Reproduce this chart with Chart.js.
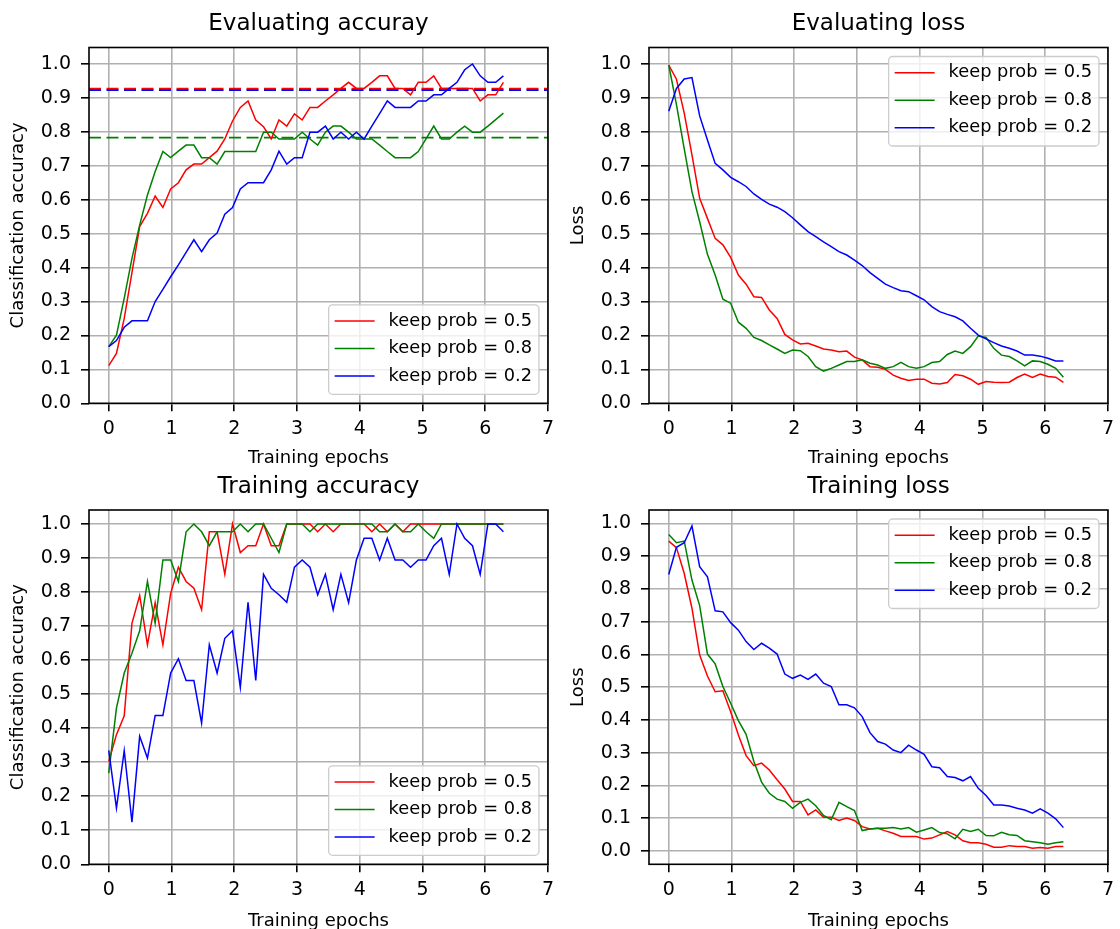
<!DOCTYPE html>
<html>
<head>
<meta charset="utf-8">
<title>Dropout keep probability comparison</title>
<script src="https://cdn.jsdelivr.net/npm/chart.js@4.4.1/dist/chart.umd.min.js"></script>
<style>
  html, body { margin: 0; padding: 0; background: #ffffff; width: 1120px; height: 929px; overflow: hidden; }
  canvas { position: absolute; }
</style>
</head>
<body>
<canvas id="evalAccCanvas" width="560" height="480" style="left:0px;top:0px;width:560px;height:480px"></canvas>
<canvas id="evalLossCanvas" width="560" height="480" style="left:560px;top:0px;width:560px;height:480px"></canvas>
<canvas id="trainAccCanvas" width="560" height="490" style="left:0px;top:454px;width:560px;height:490px"></canvas>
<canvas id="trainLossCanvas" width="560" height="490" style="left:560px;top:454px;width:560px;height:490px"></canvas>
<script>
// ---- data ----
const epochs = [0, 0.123, 0.247, 0.370, 0.493, 0.617, 0.740, 0.863, 0.987, 1.110,
  1.233, 1.357, 1.480, 1.603, 1.727, 1.850, 1.973, 2.097, 2.220, 2.343,
  2.467, 2.590, 2.713, 2.837, 2.960, 3.083, 3.207, 3.330, 3.453, 3.577,
  3.700, 3.823, 3.947, 4.070, 4.193, 4.317, 4.440, 4.563, 4.687, 4.810,
  4.933, 5.057, 5.180, 5.303, 5.427, 5.550, 5.673, 5.797, 5.920, 6.043,
  6.167, 6.290];

const seriesLabels = ['keep prob = 0.5', 'keep prob = 0.8', 'keep prob = 0.2'];
const seriesColors = ['#ff0000', '#008000', '#0000ff'];

const xTicks = [0, 1, 2, 3, 4, 5, 6, 7];
const yTicks = [0, 0.1, 0.2, 0.3, 0.4, 0.5, 0.6, 0.7, 0.8, 0.9, 1.0];

// evaluation accuracy
const evalAcc05 = [0.111, 0.147, 0.250, 0.385, 0.521, 0.560, 0.611, 0.577, 0.632, 0.650,
  0.688, 0.705, 0.705, 0.724, 0.743, 0.779, 0.832, 0.872, 0.891, 0.835,
  0.815, 0.779, 0.835, 0.817, 0.853, 0.835, 0.872, 0.872, 0.891, 0.909,
  0.928, 0.946, 0.928, 0.928, 0.946, 0.965, 0.965, 0.928, 0.928, 0.909,
  0.946, 0.946, 0.965, 0.928, 0.928, 0.928, 0.928, 0.928, 0.891, 0.909,
  0.909, 0.946];
const evalAcc08 = [0.167, 0.201, 0.310, 0.427, 0.525, 0.614, 0.683, 0.742, 0.724, 0.743,
  0.761, 0.761, 0.724, 0.724, 0.705, 0.742, 0.742, 0.742, 0.742, 0.742,
  0.799, 0.799, 0.779, 0.779, 0.779, 0.799, 0.779, 0.761, 0.799, 0.817,
  0.817, 0.799, 0.779, 0.779, 0.779, 0.761, 0.742, 0.724, 0.724, 0.724,
  0.742, 0.779, 0.817, 0.779, 0.779, 0.799, 0.817, 0.799, 0.799, 0.817,
  0.836, 0.855];
const evalAcc02 = [0.167, 0.185, 0.224, 0.243, 0.243, 0.243, 0.300, 0.336, 0.373, 0.408,
  0.445, 0.482, 0.447, 0.482, 0.502, 0.557, 0.577, 0.632, 0.650, 0.650,
  0.650, 0.688, 0.743, 0.705, 0.724, 0.724, 0.799, 0.799, 0.817, 0.779,
  0.799, 0.779, 0.799, 0.779, 0.817, 0.854, 0.891, 0.872, 0.872, 0.872,
  0.891, 0.891, 0.909, 0.909, 0.928, 0.946, 0.983, 1.000, 0.965, 0.946,
  0.946, 0.965];
// reference levels drawn as dashed horizontal lines (same order as the series)
const evalAccLevels = [0.927, 0.783, 0.923];

// evaluation loss
const evalLoss05 = [0.997, 0.955, 0.855, 0.732, 0.604, 0.545, 0.486, 0.467, 0.430, 0.378,
  0.351, 0.314, 0.312, 0.275, 0.250, 0.203, 0.187, 0.175, 0.177, 0.169,
  0.160, 0.157, 0.152, 0.154, 0.136, 0.128, 0.108, 0.106, 0.100, 0.083,
  0.074, 0.067, 0.071, 0.071, 0.059, 0.057, 0.061, 0.085, 0.081, 0.071,
  0.056, 0.064, 0.062, 0.061, 0.062, 0.076, 0.086, 0.076, 0.086, 0.079,
  0.077, 0.062];
const evalLoss08 = [0.997, 0.880, 0.750, 0.624, 0.535, 0.439, 0.378, 0.307, 0.295, 0.239,
  0.221, 0.194, 0.185, 0.172, 0.160, 0.147, 0.157, 0.155, 0.138, 0.108,
  0.095, 0.103, 0.113, 0.123, 0.123, 0.128, 0.118, 0.113, 0.103, 0.108,
  0.121, 0.108, 0.103, 0.108, 0.120, 0.123, 0.144, 0.154, 0.147, 0.167,
  0.198, 0.194, 0.162, 0.142, 0.138, 0.125, 0.110, 0.125, 0.123, 0.115,
  0.103, 0.077];
const evalLoss02 = [0.861, 0.928, 0.956, 0.960, 0.847, 0.776, 0.707, 0.688, 0.666, 0.653,
  0.639, 0.617, 0.601, 0.587, 0.578, 0.565, 0.547, 0.526, 0.506, 0.491,
  0.476, 0.462, 0.447, 0.437, 0.422, 0.406, 0.385, 0.368, 0.351, 0.341,
  0.332, 0.329, 0.317, 0.305, 0.285, 0.270, 0.262, 0.255, 0.243, 0.221,
  0.201, 0.190, 0.179, 0.169, 0.162, 0.154, 0.142, 0.142, 0.139, 0.133,
  0.125, 0.125];

// training accuracy
const trainAcc05 = [0.302, 0.381, 0.436, 0.708, 0.790, 0.645, 0.769, 0.645, 0.796, 0.873,
  0.831, 0.811, 0.748, 0.977, 0.977, 0.852, 1.000, 0.916, 0.936, 0.936,
  1.000, 0.936, 0.936, 1.000, 1.000, 1.000, 1.000, 0.977, 1.000, 0.977,
  1.000, 1.000, 1.000, 1.000, 0.977, 1.000, 0.977, 1.000, 0.977, 1.000,
  1.000, 1.000, 1.000, 1.000, 1.000, 1.000, 1.000, 1.000, 1.000, 1.000,
  1.000, 1.000];
const trainAcc08 = [0.268, 0.459, 0.562, 0.620, 0.686, 0.831, 0.708, 0.894, 0.894, 0.831,
  0.977, 1.000, 0.977, 0.936, 0.977, 0.977, 0.977, 1.000, 0.977, 1.000,
  1.000, 0.958, 0.916, 1.000, 1.000, 1.000, 0.977, 1.000, 1.000, 1.000,
  1.000, 1.000, 1.000, 1.000, 1.000, 0.977, 0.977, 1.000, 0.977, 0.977,
  1.000, 0.977, 0.958, 1.000, 1.000, 1.000, 1.000, 1.000, 1.000, 1.000,
  1.000, 1.000];
const trainAcc02 = [0.335, 0.165, 0.334, 0.124, 0.376, 0.312, 0.437, 0.437, 0.562, 0.604,
  0.540, 0.540, 0.415, 0.645, 0.562, 0.664, 0.686, 0.520, 0.770, 0.540,
  0.852, 0.811, 0.792, 0.770, 0.873, 0.894, 0.873, 0.792, 0.852, 0.748,
  0.852, 0.769, 0.894, 0.958, 0.958, 0.894, 0.958, 0.894, 0.894, 0.873,
  0.894, 0.894, 0.936, 0.958, 0.852, 1.000, 0.958, 0.936, 0.852, 1.000,
  1.000, 0.977];

// training loss
const trainLoss05 = [0.946, 0.926, 0.847, 0.741, 0.598, 0.534, 0.486, 0.489, 0.425, 0.354,
  0.291, 0.260, 0.268, 0.247, 0.217, 0.189, 0.151, 0.151, 0.110, 0.125,
  0.103, 0.103, 0.093, 0.100, 0.093, 0.074, 0.067, 0.069, 0.061, 0.054,
  0.044, 0.044, 0.044, 0.036, 0.039, 0.049, 0.059, 0.049, 0.031, 0.025,
  0.025, 0.020, 0.011, 0.011, 0.016, 0.013, 0.013, 0.008, 0.010, 0.008,
  0.013, 0.013];
const trainLoss08 = [0.966, 0.941, 0.946, 0.827, 0.749, 0.601, 0.571, 0.502, 0.451, 0.398,
  0.356, 0.273, 0.210, 0.176, 0.158, 0.151, 0.130, 0.148, 0.158, 0.138,
  0.108, 0.095, 0.148, 0.135, 0.123, 0.062, 0.067, 0.069, 0.069, 0.071,
  0.067, 0.071, 0.057, 0.064, 0.071, 0.056, 0.052, 0.037, 0.066, 0.059,
  0.066, 0.047, 0.046, 0.057, 0.049, 0.047, 0.031, 0.028, 0.025, 0.020,
  0.025, 0.028];
const trainLoss02 = [0.844, 0.927, 0.941, 0.992, 0.868, 0.837, 0.733, 0.730, 0.697, 0.674,
  0.639, 0.615, 0.634, 0.619, 0.601, 0.540, 0.527, 0.537, 0.524, 0.540,
  0.512, 0.502, 0.446, 0.446, 0.437, 0.410, 0.361, 0.334, 0.326, 0.308,
  0.300, 0.323, 0.308, 0.295, 0.257, 0.254, 0.227, 0.224, 0.214, 0.227,
  0.191, 0.169, 0.140, 0.140, 0.137, 0.130, 0.125, 0.115, 0.128, 0.115,
  0.098, 0.071];

// ---- styling ----
const FONT = '"DejaVu Sans", "Liberation Sans", sans-serif';
Chart.defaults.font.family = FONT;
Chart.defaults.color = '#000000';

const X_MIN = -0.3145, X_MAX = 7;

// black box around the plotting area
const axesFrame = {
  id: 'axesFrame',
  afterDatasetsDraw(chart) {
    const { ctx, chartArea: a } = chart;
    ctx.save();
    ctx.strokeStyle = '#000000';
    ctx.lineWidth = 1.6;
    ctx.strokeRect(a.left, a.top, a.right - a.left, a.bottom - a.top);
    ctx.restore();
  }
};

function roundedRect(ctx, x, y, w, h, r) {
  ctx.beginPath();
  ctx.moveTo(x + r, y);
  ctx.lineTo(x + w - r, y);
  ctx.arcTo(x + w, y, x + w, y + r, r);
  ctx.lineTo(x + w, y + h - r);
  ctx.arcTo(x + w, y + h, x + w - r, y + h, r);
  ctx.lineTo(x + r, y + h);
  ctx.arcTo(x, y + h, x, y + h - r, r);
  ctx.lineTo(x, y + r);
  ctx.arcTo(x, y, x + r, y, r);
  ctx.closePath();
}

// legend drawn inside the plotting area, in a corner
const insideLegend = {
  id: 'insideLegend',
  afterDraw(chart, args, opts) {
    const { ctx, chartArea: a } = chart;
    const items = chart.data.datasets.filter(d => !d.isLevel);
    ctx.save();
    ctx.font = opts.fontSize + 'px ' + FONT;
    const textW = Math.max(...items.map(d => ctx.measureText(d.label).width));
    const padL = 6, handle = 40, gap = 14, padR = 7, padTop = 2.5, padBottom = 4.5, rowH = 27.5;
    const w = padL + handle + gap + textW + padR;
    const h = padTop + rowH * items.length + padBottom;
    const x0 = a.right - opts.inset - w;
    const y0 = opts.corner === 'upper' ? a.top + opts.inset : a.bottom - opts.inset - h;
    roundedRect(ctx, x0, y0, w, h, 4);
    ctx.fillStyle = 'rgba(255,255,255,0.8)';
    ctx.fill();
    ctx.strokeStyle = '#cccccc';
    ctx.lineWidth = 1.3;
    ctx.stroke();
    items.forEach((d, k) => {
      const cy = y0 + padTop + rowH * (k + 0.5);
      ctx.beginPath();
      ctx.moveTo(x0 + padL, cy);
      ctx.lineTo(x0 + padL + handle, cy);
      ctx.strokeStyle = d.borderColor;
      ctx.lineWidth = d.borderWidth;
      ctx.stroke();
      ctx.fillStyle = '#000000';
      ctx.textAlign = 'left';
      ctx.textBaseline = 'middle';
      ctx.fillText(d.label, x0 + padL + handle + gap, cy);
    });
    ctx.restore();
  }
};

function toPoints(values) {
  return epochs.map((e, i) => ({ x: e, y: values[i] }));
}

function seriesSets(valueLists) {
  return valueLists.map((vals, k) => ({
    label: seriesLabels[k],
    data: toPoints(vals),
    borderColor: seriesColors[k],
    backgroundColor: seriesColors[k],
    borderWidth: 1.5,
    pointRadius: 0,
    tension: 0,
    fill: false,
    order: 3 - k
  }));
}

function levelSets(levels) {
  return levels.map((v, k) => ({
    label: 'level ' + seriesLabels[k],
    isLevel: true,
    data: [{ x: X_MIN, y: v }, { x: X_MAX, y: v }],
    borderColor: seriesColors[k],
    borderWidth: 1.9,
    borderDash: [12, 5.5],
    pointRadius: 0,
    fill: false,
    order: 6 - k
  }));
}

function makePanel(canvasId, cfg) {
  const gridStyle = {
    color: '#b0b0b0',
    lineWidth: 1.6,
    drawTicks: true,
    tickLength: 8,
    tickColor: '#000000',
    tickWidth: 1.6
  };
  return new Chart(document.getElementById(canvasId), {
    type: 'line',
    data: { datasets: cfg.datasets },
    plugins: [axesFrame, insideLegend],
    options: {
      responsive: false,
      animation: false,
      devicePixelRatio: 1,
      events: [],
      layout: { padding: { left: 0, right: 4, top: 0, bottom: 0 } },
      scales: {
        x: {
          type: 'linear',
          min: X_MIN,
          max: X_MAX,
          afterBuildTicks: s => { s.ticks = xTicks.map(v => ({ value: v })); },
          afterFit: s => { s.height = cfg.xAxisHeight; },
          ticks: {
            autoSkip: false, maxRotation: 0, padding: 6,
            font: { size: 19 }, color: '#000000',
            callback: v => String(v)
          },
          grid: gridStyle,
          border: { display: false },
          title: {
            display: true, text: 'Training epochs',
            font: { size: 18 }, color: '#000000',
            padding: { top: 0, bottom: cfg.xTitlePad }
          }
        },
        y: {
          type: 'linear',
          min: cfg.yMin,
          max: cfg.yMax,
          afterBuildTicks: s => { s.ticks = yTicks.map(v => ({ value: v })); },
          afterFit: s => { s.width = 89; },
          ticks: {
            autoSkip: false, padding: 10,
            font: { size: 19 }, color: '#000000',
            callback: v => v.toFixed(1)
          },
          grid: gridStyle,
          border: { display: false },
          title: {
            display: true, text: cfg.yLabel,
            font: { size: 18 }, color: '#000000',
            padding: { top: 7.3, bottom: 0 }
          }
        }
      },
      plugins: {
        legend: { display: false },
        tooltip: { enabled: false },
        title: {
          display: true,
          text: cfg.title,
          fullSize: false,
          color: '#000000',
          font: { size: 23, weight: 'normal' },
          padding: cfg.titlePad
        },
        insideLegend: { corner: cfg.legendCorner, inset: 9, fontSize: 17.8 }
      }
    }
  });
}

const topRow = { xAxisHeight: 76.7, xTitlePad: 10.5, titlePad: { top: 10.5, bottom: 9.4 } };
const bottomRow = { xAxisHeight: 79.7, xTitlePad: 12, titlePad: { top: 19.2, bottom: 9.2 } };

makePanel('evalAccCanvas', Object.assign({}, topRow, {
  title: 'Evaluating accuray',
  yLabel: 'Classification accuracy',
  yMin: 0, yMax: 1.0486,
  legendCorner: 'lower',
  datasets: levelSets(evalAccLevels).concat(seriesSets([evalAcc05, evalAcc08, evalAcc02]))
}));

makePanel('evalLossCanvas', Object.assign({}, topRow, {
  title: 'Evaluating loss',
  yLabel: 'Loss',
  yMin: 0, yMax: 1.0486,
  legendCorner: 'upper',
  datasets: seriesSets([evalLoss05, evalLoss08, evalLoss02])
}));

makePanel('trainAccCanvas', Object.assign({}, bottomRow, {
  title: 'Training accuracy',
  yLabel: 'Classification accuracy',
  yMin: 0, yMax: 1.041,
  legendCorner: 'lower',
  datasets: seriesSets([trainAcc05, trainAcc08, trainAcc02])
}));

makePanel('trainLossCanvas', Object.assign({}, bottomRow, {
  title: 'Training loss',
  yLabel: 'Loss',
  yMin: -0.041, yMax: 1.041,
  legendCorner: 'upper',
  datasets: seriesSets([trainLoss05, trainLoss08, trainLoss02])
}));
</script>
</body>
</html>
